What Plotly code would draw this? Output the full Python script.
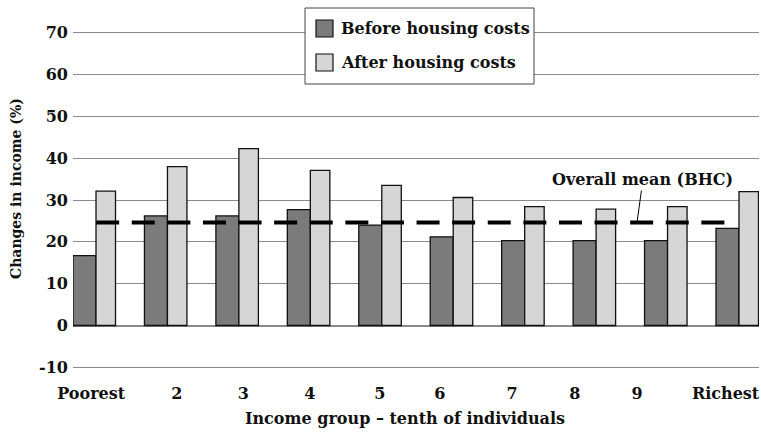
import plotly.graph_objects as go

# Income change by decile, before and after housing costs (%)
CATEGORIES = ["Poorest", "2", "3", "4", "5", "6", "7", "8", "9", "Richest"]
BHC = [16.7, 26.2, 26.2, 27.7, 24.0, 21.2, 20.3, 20.3, 20.3, 23.2]
AHC = [32.1, 38.0, 42.3, 37.1, 33.5, 30.6, 28.4, 27.8, 28.4, 32.0]
SERIES_NAMES = ["Before housing costs", "After housing costs"]
OVERALL_MEAN_BHC = 24.6
MEAN_LABEL = "Overall mean (BHC)"
Y_TICKS = [-10, 0, 10, 20, 30, 40, 50, 60, 70]
Y_TICK_TEXT = ["-10", "0", "10", "20", "30", "40", "50", "60", "70"]
X_TITLE = "Income group – tenth of individuals"
Y_TITLE = "Changes in income (%)"

# ---- layout geometry -------------------------------------------------------
W, H = 761, 433
M_L, M_R, M_T, M_B = 73, 2, 31, 64
PLOT_W = W - M_L - M_R
PLOT_H = H - M_T - M_B
X_RANGE = [-0.294, 9.308]
Y_RANGE = [-10.4, 70.4]

# tick label anchors along the category axis (axis units)
TICK_POS = [-0.04, 1.16, 2.09, 3.02, 4.0, 4.84, 5.85, 6.73, 7.6, 8.84]

FONT = "DejaVu Serif"
DARK = "#7b7b7b"
LIGHT = "#d6d6d6"
GRID = "#8a8a8a"


def px_x(p):
    return (p - M_L) / PLOT_W


def px_y(p):
    return (H - M_B - p) / PLOT_H


x_idx = list(range(len(CATEGORIES)))

fig = go.Figure()
fig.add_trace(go.Bar(
    x=x_idx, y=BHC, name=SERIES_NAMES[0],
    offset=-0.294, width=0.322,
    marker=dict(color=DARK, line=dict(color="#111111", width=1.3)),
    showlegend=False,
))
fig.add_trace(go.Bar(
    x=x_idx, y=AHC, name=SERIES_NAMES[1],
    offset=0.028, width=0.273,
    marker=dict(color=LIGHT, line=dict(color="#111111", width=1.3)),
    showlegend=False,
))

# overall mean reference line
fig.add_trace(go.Scatter(
    x=[0.03, 8.83], y=[OVERALL_MEAN_BHC, OVERALL_MEAN_BHC],
    mode="lines", line=dict(color="black", width=4, dash="23px,12.6px"),
    showlegend=False, hoverinfo="skip",
))

fig.add_annotation(
    x=7.6, y=OVERALL_MEAN_BHC, xref="x", yref="y",
    text=MEAN_LABEL, showarrow=True, arrowhead=0, arrowwidth=1,
    arrowcolor="black", ax=6, ay=-43,
    font=dict(family=FONT, size=16, color="#111111", weight="bold"),
)

# legend box drawn by hand
fig.add_shape(type="rect", xref="paper", yref="paper",
              x0=px_x(305), x1=px_x(534), y0=px_y(84), y1=px_y(8),
              line=dict(color="#444444", width=1), fillcolor="white", layer="above")
for i, (name, col) in enumerate(zip(SERIES_NAMES, [DARK, LIGHT])):
    top = 20 + i * 34
    fig.add_shape(type="rect", xref="paper", yref="paper",
                  x0=px_x(316), x1=px_x(333), y0=px_y(top + 17), y1=px_y(top),
                  line=dict(color="#111111", width=1.2), fillcolor=col, layer="above")
    fig.add_annotation(x=px_x(339), y=px_y(top + 8.5), xref="paper", yref="paper",
                       text=name, showarrow=False, xanchor="left", yanchor="middle",
                       font=dict(family=FONT, size=16, color="#111111", weight="bold"))

# axis titles
fig.add_annotation(x=px_x(405), y=px_y(418), xref="paper", yref="paper",
                   text=X_TITLE, showarrow=False, xanchor="center", yanchor="middle",
                   font=dict(family=FONT, size=16, color="#111111", weight="bold"))
fig.add_annotation(x=px_x(16), y=px_y(189), xref="paper", yref="paper",
                   text=Y_TITLE, showarrow=False, textangle=-90,
                   xanchor="center", yanchor="middle",
                   font=dict(family=FONT, size=14, color="#111111", weight="bold"))

fig.update_layout(
    width=W, height=H,
    margin=dict(l=M_L, r=M_R, t=M_T, b=M_B),
    paper_bgcolor="white", plot_bgcolor="white",
    barmode="overlay",
    font=dict(family=FONT, size=16, color="#111111", weight="bold"),
    xaxis=dict(
        range=X_RANGE, tickmode="array", tickvals=TICK_POS, ticktext=CATEGORIES,
        showgrid=False, zeroline=False, showline=False, ticks="",
        ticklabelstandoff=13, ticklabeloverflow="allow",
    ),
    yaxis=dict(
        range=Y_RANGE, tickmode="array", tickvals=Y_TICKS, ticktext=Y_TICK_TEXT,
        showgrid=True, gridcolor=GRID, gridwidth=1,
        zeroline=True, zerolinecolor=GRID, zerolinewidth=1.5,
        ticks="", ticklabelstandoff=4,
    ),
)

fig.write_html("out.html")
